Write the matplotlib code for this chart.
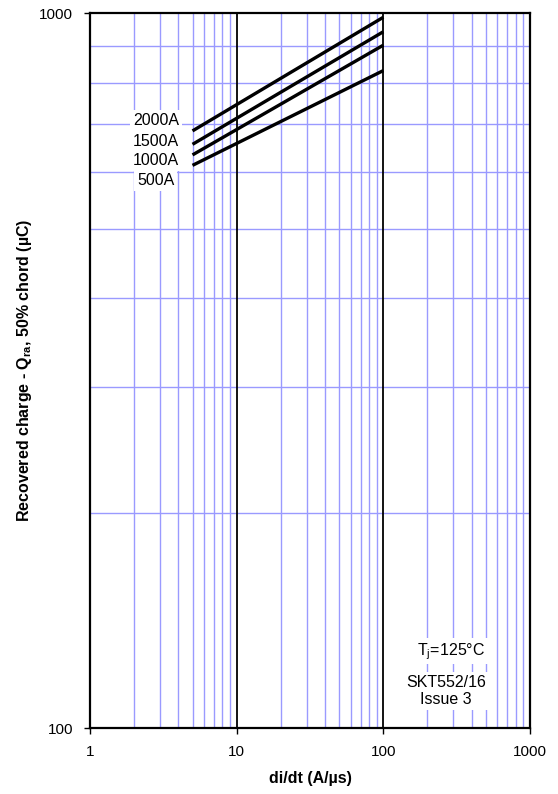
import numpy as np
import matplotlib.pyplot as plt
from matplotlib.ticker import FixedLocator, NullFormatter, NullLocator

plt.rcParams['font.family'] = ['Liberation Sans', 'DejaVu Sans']

# recovered charge vs di/dt, Tj = 125 C
didt = [5, 100]
currents = ['2000A', '1500A', '1000A', '500A']
qra = {
    '2000A': [685, 988],
    '1500A': [656, 943],
    '1000A': [634, 903],
    '500A': [613, 832],
}
label_y = [708, 663, 622, 584]

fig = plt.figure(figsize=(5.58, 7.94), dpi=100)
ax = fig.add_axes([90 / 558, 1 - 728 / 794, 440 / 558, 714.5 / 794])

ax.set_xscale('log')
ax.set_yscale('log')
ax.set_xlim(1, 1000)
ax.set_ylim(100, 1000)

grid_blue = '#9a9aff'
for dec in [1, 10, 100]:
    for m in range(2, 10):
        ax.axvline(dec * m, color=grid_blue, lw=1.0, zorder=1)
for v in range(200, 1000, 100):
    ax.axhline(v, color=grid_blue, lw=1.0, zorder=1)
for v in [10, 100]:
    ax.axvline(v, color='black', lw=1.3, zorder=2)

for name in currents:
    ax.plot(didt, qra[name], color='black', lw=2.4, solid_capstyle='butt', zorder=4)

for name, y in zip(currents, label_y):
    ax.text(2.81, y, name, ha='center', va='center', fontsize=11.5, zorder=5,
            bbox=dict(facecolor='white', edgecolor='none', pad=2))

ax.text(289, 128, 'T$_\\mathregular{j}$=125°C', ha='center', va='center', fontsize=11.5, zorder=5,
        bbox=dict(facecolor='white', edgecolor='none', pad=2))
ax.text(267, 112.7, 'SKT552/16\nIssue 3', ha='center', va='center', fontsize=11.5,
        linespacing=1.15, zorder=5,
        bbox=dict(facecolor='white', edgecolor='none', pad=2))

ax.xaxis.set_major_locator(FixedLocator([1, 10, 100, 1000]))
ax.xaxis.set_minor_locator(NullLocator())
ax.xaxis.set_minor_formatter(NullFormatter())
ax.set_xticklabels(['1', '10', '100', '1000'])
ax.yaxis.set_major_locator(FixedLocator([100, 1000]))
ax.yaxis.set_minor_locator(NullLocator())
ax.yaxis.set_minor_formatter(NullFormatter())
ax.set_yticklabels(['100', '1000'])
ax.tick_params(which='major', direction='out', length=4, width=1, labelsize=11, pad=8)

for s in ax.spines.values():
    s.set_linewidth(1.6)
    s.set_zorder(6)

ax.set_xlabel('di/dt (A/µs)', fontsize=11.5, fontweight='bold', labelpad=9)
ax.set_ylabel('Recovered charge - Q$_\\mathregular{ra}$, 50% chord (µC)', fontsize=11.5,
              fontweight='bold', labelpad=4)

fig.savefig('out.png', dpi=100)
